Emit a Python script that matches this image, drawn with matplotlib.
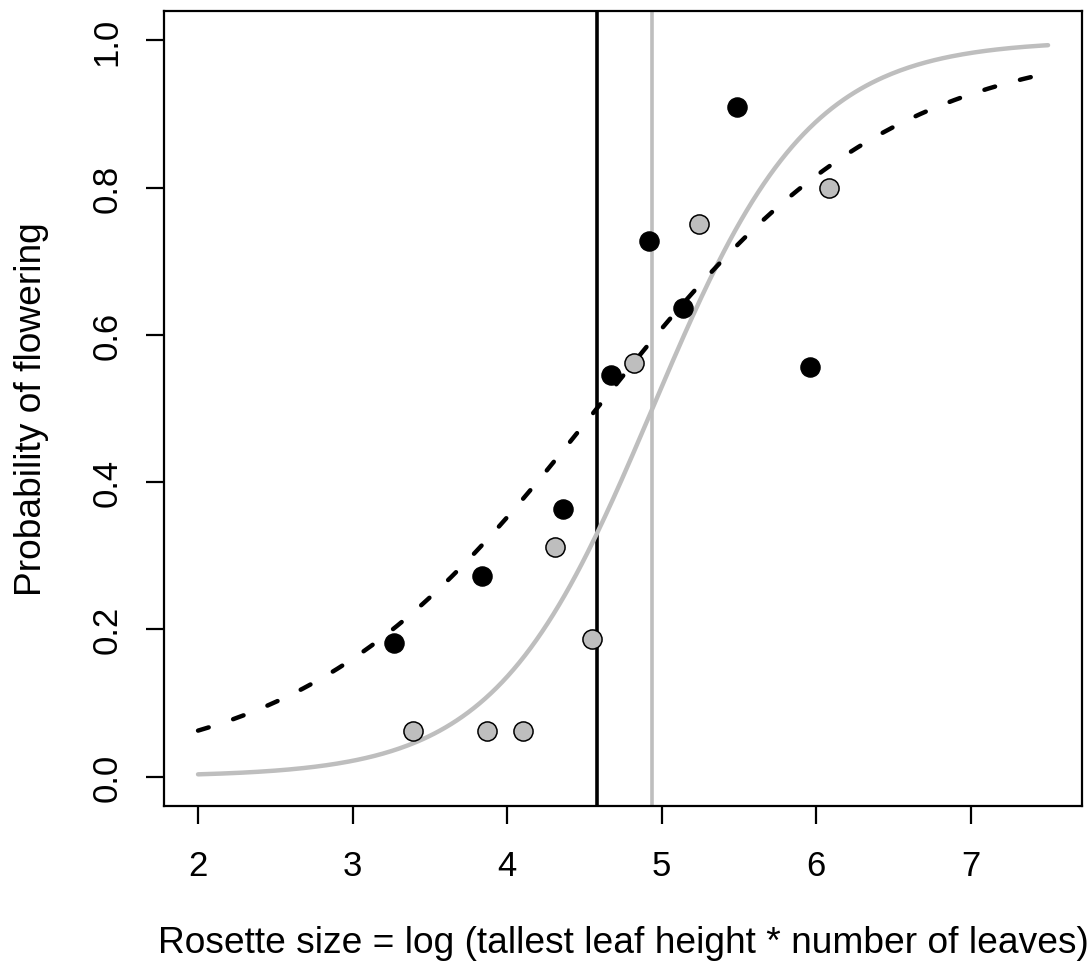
import numpy as np
import matplotlib.pyplot as plt

plt.rcParams['font.family'] = ['Liberation Sans', 'DejaVu Sans']

# observed proportions flowering, per rosette-size class
black_x = [3.27, 3.84, 4.36, 4.67, 4.92, 5.14, 5.49, 5.96]
black_y = [0.182, 0.273, 0.364, 0.545, 0.727, 0.636, 0.909, 0.556]
grey_x = [3.39, 3.87, 4.10, 4.31, 4.55, 4.82, 5.24, 6.08]
grey_y = [0.0625, 0.0625, 0.0625, 0.3125, 0.1875, 0.5625, 0.75, 0.80]

# fitted logistic curves: midpoint (p = 0.5) and slope
black_mid, black_slope = 4.58, 1.05
grey_mid, grey_slope = 4.94, 1.97
curve_range = (2.0, 7.5)

xticks = [2, 3, 4, 5, 6, 7]
yticks = [0.0, 0.2, 0.4, 0.6, 0.8, 1.0]


def logistic(x, mid, slope):
    return 1.0 / (1.0 + np.exp(-slope * (x - mid)))


fig = plt.figure(figsize=(10.9, 9.62), dpi=100)
ax = fig.add_axes([0.1505, 0.1611, 0.8422, 0.8264])

xs = np.linspace(curve_range[0], curve_range[1], 300)
ax.plot(xs, logistic(xs, grey_mid, grey_slope), color="#bebebe", lw=3.2, zorder=2,
        solid_capstyle="round")
ax.plot(xs, logistic(xs, black_mid, black_slope), color="black", lw=3.2,
        dashes=(2.5, 5.8), dash_capstyle="round", zorder=2)
ax.axvline(black_mid, color="black", lw=2.6, zorder=1)
ax.axvline(grey_mid, color="#bebebe", lw=2.6, zorder=1)

ax.scatter(black_x, black_y, s=190, c="black", edgecolors="black", lw=1.0, zorder=3)
ax.scatter(grey_x, grey_y, s=190, c="#bebebe", edgecolors="black", lw=1.1, zorder=3)

ax.set_xlim(1.78, 7.72)
ax.set_ylim(-0.04, 1.04)
ax.set_xticks(xticks)
ax.set_xticklabels([str(t) for t in xticks])
ax.set_yticks(yticks)
ax.set_yticklabels([f"{t:.1f}" for t in yticks], rotation=90, va="center")
ax.tick_params(labelsize=25, length=13, width=1.6, pad=18)
ax.tick_params(axis="y", pad=16)
for s in ax.spines.values():
    s.set_linewidth(1.6)

ax.set_xlabel("Rosette size = log (tallest leaf height * number of leaves)",
              fontsize=26.7, labelpad=31)
ax.set_ylabel("Probability of flowering", fontsize=26.7, labelpad=30)

fig.savefig("out.png", dpi=100)
